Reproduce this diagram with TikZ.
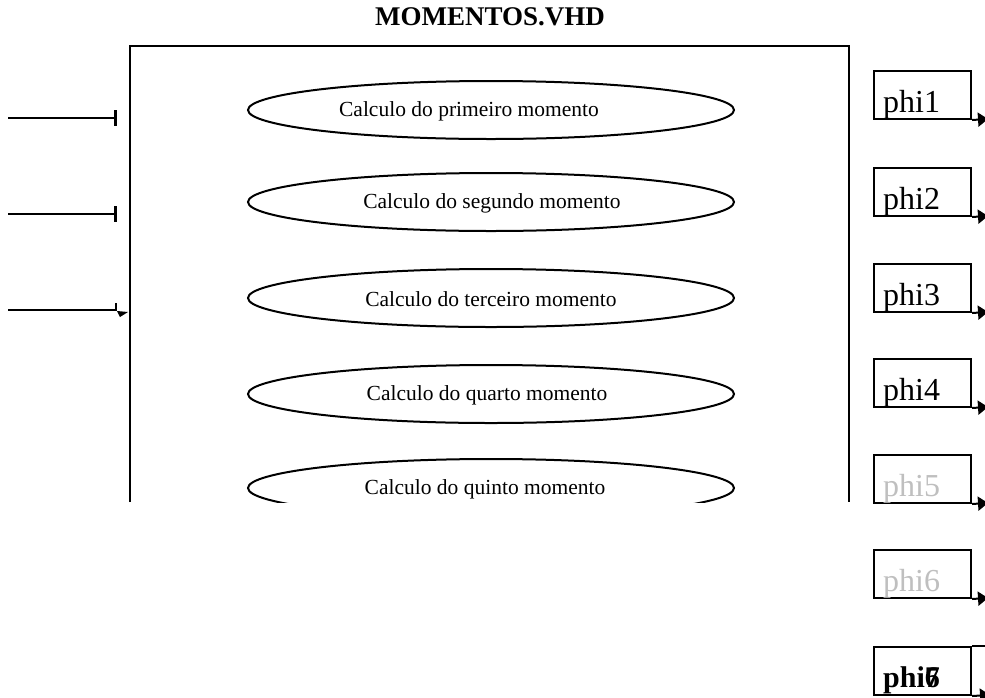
\documentclass[tikz,border=0pt]{standalone}
\usepackage{fontspec}
\setmainfont{Liberation Serif}
\usetikzlibrary{shapes.geometric,arrows.meta}
\tikzset{
  x=1pt,y=-1pt,
  thk/.style={line width=2pt},
  mom/.style={ellipse,draw,thk,minimum width=486pt,minimum height=58pt,inner sep=0pt,
    font=\fontsize{21.5}{24}\selectfont},
  momtext/.style={inner sep=0pt,font=\fontsize{21.5}{24}\selectfont},
  phibox/.style={draw,thk,minimum width=97pt,minimum height=48pt,inner sep=0pt},
  phitext/.style={anchor=base west,inner sep=0pt,font=\fontsize{32}{36}\selectfont},
  outarrow/.style={thk,-{Triangle[length=10pt,width=14pt]}},
  inbar/.style={thk,-{Bar[width=16pt,line width=3pt]}},
}
\begin{document}
\begin{tikzpicture}
\useasboundingbox (0,0) rectangle (985,697);

% title
\node[font=\bfseries\fontsize{27}{30}\selectfont] (title) at (490,17) {MOMENTOS.VHD};

% frame (open at the bottom)
\coordinate (fbl) at (130,502);
\coordinate (ftl) at (130,46);
\coordinate (ftr) at (849,46);
\coordinate (fbr) at (849,502);
\draw[thk] (fbl) -- (ftl) -- (ftr) -- (fbr);

% ellipses
\node[mom] (m1) at (491,110) {};
\node[mom] (m2) at (491,202) {};
\node[mom] (m3) at (491,298) {};
\node[mom] (m4) at (491,394) {};
\begin{scope}
\clip (0,0) rectangle (985,502);
\node[mom] (m5) at (491,488) {};
\end{scope}
\node[momtext] (l1) at ([xshift=-22pt,yshift=-1pt]m1.center) {Calculo do primeiro momento};
\node[momtext] (l2) at ([xshift=1pt,yshift=-1pt]m2.center) {Calculo do segundo momento};
\node[momtext] (l3) at ([xshift=0pt,yshift=-1pt]m3.center) {Calculo do terceiro momento};
\node[momtext] (l4) at ([xshift=-4pt,yshift=-1pt]m4.center) {Calculo do quarto momento};
\node[momtext] (l5) at ([xshift=-6pt,yshift=-1pt]m5.center) {Calculo do quinto momento};

% inputs
\coordinate (i1) at (8,118);
\coordinate (e1) at (117,118);
\draw[inbar] (i1) -- (e1);
\coordinate (i2) at (8,214);
\coordinate (e2) at (117,214);
\draw[inbar] (i2) -- (e2);
\coordinate (i3) at (8,310);
\coordinate (e3) at (116,310);
\coordinate (t3) at (116,303);
\coordinate (a3) at (117,311);
\draw[thk] (i3) -- (e3) -- (t3);
\fill (a3) -- ++(11,1) -- ++(-8,5) -- cycle;

% outputs
\foreach \n/\yt in {1/70,2/167,3/263,4/358,5/454,6/549}{
  \node[phibox,anchor=north west] (p\n) at (873,\yt) {};
  \coordinate (o\n) at (988,\yt+49);
  \draw[outarrow] (p\n.south east) -- (o\n);
}
\foreach \n in {1,2,3,4}{
  \node[phitext] (t\n) at ([xshift=10pt,yshift=8pt]p\n.south west) {phi\n};
}
\foreach \n in {5,6}{
  \node[phitext,text=black!25] (t\n) at ([xshift=10pt,yshift=8pt]p\n.south west) {phi\n};
}
\node[phibox,anchor=north west] (p7) at (873,646) {};
\coordinate (q7a) at (990,646);
\draw[thk] (p7.north east) -- (q7a);
\coordinate (o7) at (990,695);
\draw[outarrow] (p7.south east) -- (o7);
\node[phitext,font=\bfseries\fontsize{30}{34}\selectfont] (t7) at ([xshift=10pt,yshift=9pt]p7.south west) {phi\rlap{6}7};
\end{tikzpicture}
\end{document}
